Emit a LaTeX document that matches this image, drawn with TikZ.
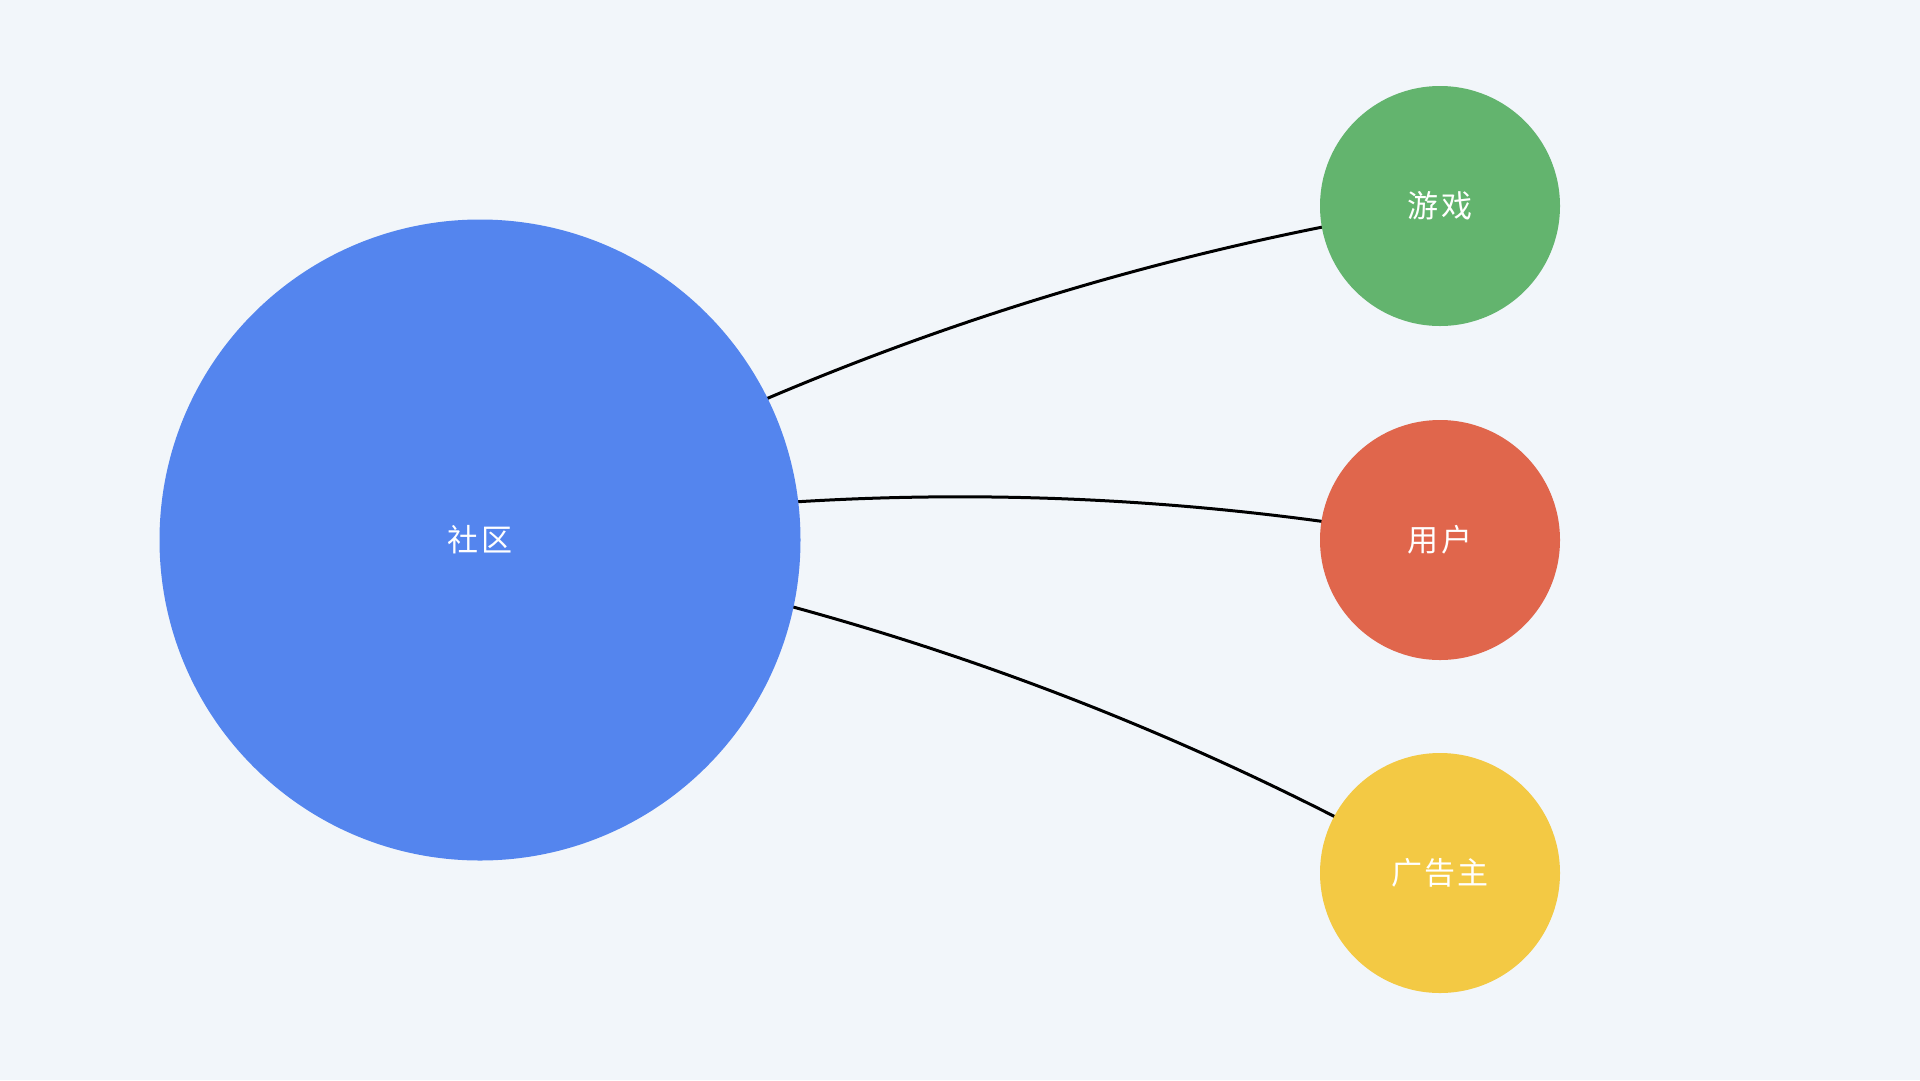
\documentclass[tikz,border=0pt]{standalone}
\usepackage{fontspec}
\usetikzlibrary{calc,backgrounds}
\newfontfamily\cjk[LetterSpace=8]{Noto Sans CJK SC}
\definecolor{bgc}{RGB}{242,246,250}
\definecolor{bluec}{RGB}{84,133,238}
\definecolor{greenc}{RGB}{99,180,110}
\definecolor{redc}{RGB}{224,102,76}
\definecolor{yellowc}{RGB}{243,201,68}
\tikzset{
  bubble/.style={circle, inner sep=0pt, text=white, font=\cjk\fontsize{31}{31}\selectfont},
  big/.style={bubble, minimum size=641pt},
  small/.style={bubble, minimum size=240pt},
  link/.style={draw=black, line width=3pt}
}
\newcommand\curvelink[2]{%
  \coordinate (ctl) at ($(#1)!0.5!(#2)!0.18!90:(#2)$);
  \draw[link] (#1.center) .. controls ($(#1)!2/3!(ctl)$) and ($(#2)!2/3!(ctl)$) .. (#2.center);
}
\begin{document}
\begin{tikzpicture}[x=1pt,y=-1pt]
\node[big, fill=bluec] (sq) at (480,540) {社区};
\node[small, fill=greenc] (yx) at (1440,206) {游戏};
\node[small, fill=redc] (yh) at (1440,540) {用户};
\node[small, fill=yellowc] (ggz) at (1440,873) {广告主};
\begin{scope}[on background layer]
\fill[bgc] (0,0) rectangle (1920,1080);
\curvelink{sq}{yx}
\curvelink{sq}{yh}
\curvelink{sq}{ggz}
\end{scope}
\useasboundingbox (0,0) rectangle (1920,1080);
\end{tikzpicture}
\end{document}
